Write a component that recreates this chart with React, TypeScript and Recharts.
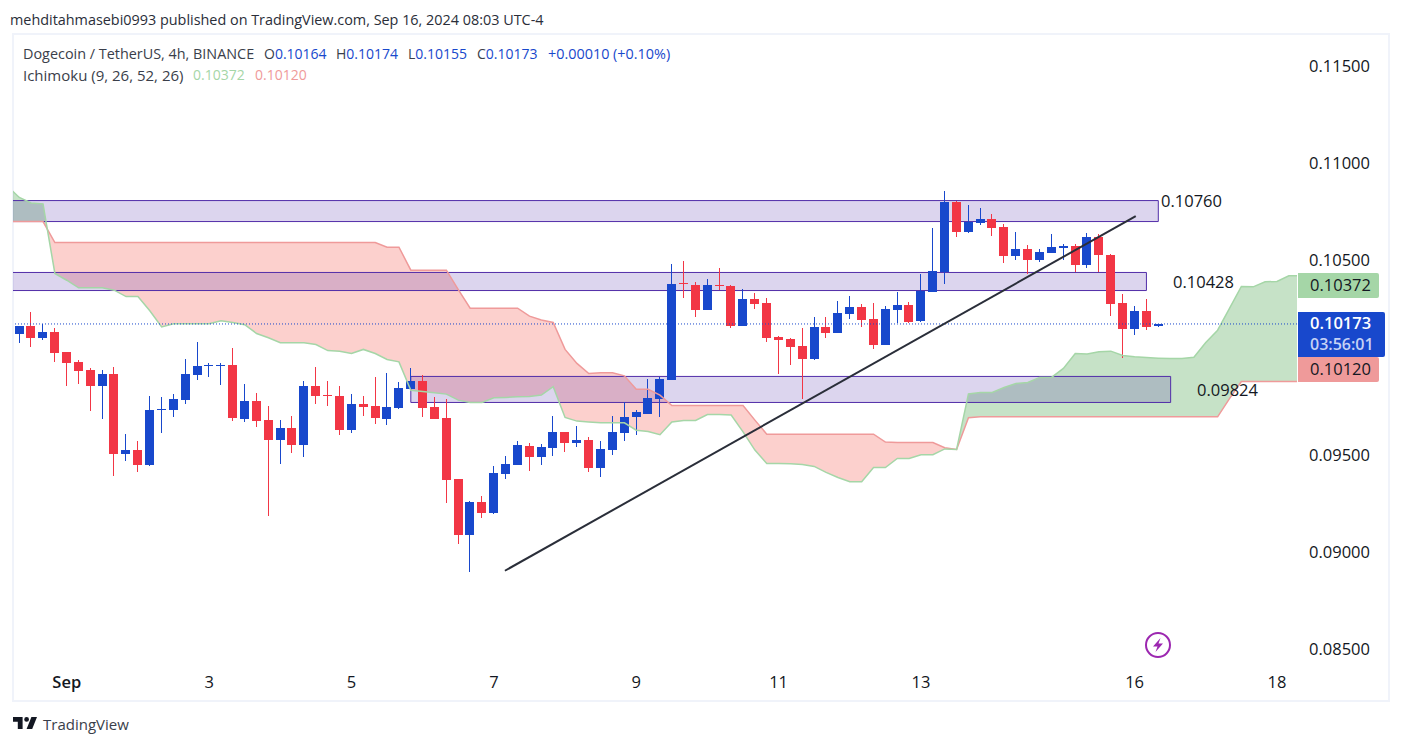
import { ComposedChart, Area, Bar, Line, XAxis, YAxis, ReferenceArea, ReferenceLine } from "recharts";

// one entry per 4h candle, oldest first
const opens = [
  0.10122, 0.10162, 0.10102, 0.10131, 0.10028, 0.09976, 0.09935, 0.09855, 0.09915, 0.09505,
  0.09524, 0.09448, 0.09729, 0.09731, 0.09783, 0.09911, 0.09958, 0.09958, 0.09961, 0.09685,
  0.09776, 0.09678, 0.09577, 0.09637, 0.09551, 0.09853, 0.09807, 0.09801, 0.09628, 0.09760,
  0.09750, 0.09685, 0.09741, 0.09838, 0.09879, 0.09745, 0.09688, 0.09374, 0.09088, 0.09256,
  0.09201, 0.09402, 0.09448, 0.09544, 0.09489, 0.09536, 0.09616, 0.09561, 0.09575, 0.09433,
  0.09525, 0.09613, 0.09693, 0.09711, 0.09786, 0.09884, 0.10383, 0.10373, 0.10244, 0.10373,
  0.10368, 0.10163, 0.10301, 0.10280, 0.10105, 0.10095, 0.10059, 0.09992, 0.10157, 0.10126,
  0.10223, 0.10259, 0.10198, 0.10064, 0.10244, 0.10270, 0.10187, 0.10337, 0.10438, 0.10800,
  0.10645, 0.10692, 0.10712, 0.10671, 0.10522, 0.10558, 0.10501, 0.10537, 0.10563, 0.10573,
  0.10476, 0.10620, 0.10527, 0.10280, 0.10146, 0.10239, 0.10164,
];
const closes = [
  0.10162, 0.10102, 0.10131, 0.10024, 0.09973, 0.09932, 0.09855, 0.09915, 0.09505, 0.09524,
  0.09448, 0.09729, 0.09735, 0.09786, 0.09915, 0.09956, 0.09963, 0.09961, 0.09690, 0.09776,
  0.09675, 0.09577, 0.09637, 0.09551, 0.09853, 0.09803, 0.09803, 0.09628, 0.09760, 0.09747,
  0.09690, 0.09745, 0.09843, 0.09879, 0.09741, 0.09685, 0.09371, 0.09088, 0.09256, 0.09201,
  0.09405, 0.09452, 0.09549, 0.09489, 0.09539, 0.09616, 0.09561, 0.09575, 0.09433, 0.09529,
  0.09616, 0.09693, 0.09719, 0.09791, 0.09889, 0.10378, 0.10380, 0.10244, 0.10373, 0.10369,
  0.10163, 0.10301, 0.10275, 0.10100, 0.10090, 0.10054, 0.09992, 0.10157, 0.10126, 0.10229,
  0.10259, 0.10193, 0.10064, 0.10249, 0.10270, 0.10182, 0.10345, 0.10445, 0.10800, 0.10645,
  0.10700, 0.10712, 0.10666, 0.10522, 0.10558, 0.10501, 0.10542, 0.10568, 0.10573, 0.10476,
  0.10620, 0.10527, 0.10275, 0.10146, 0.10239, 0.10157, 0.10173,
];
const highs = [
  0.10162, 0.10234, 0.10175, 0.10150, 0.10028, 0.09987, 0.09946, 0.09935, 0.09951, 0.09606,
  0.09570, 0.09801, 0.09796, 0.09812, 0.09992, 0.10079, 0.09971, 0.09971, 0.10048, 0.09863,
  0.09817, 0.09750, 0.09678, 0.09699, 0.09879, 0.09951, 0.09879, 0.09853, 0.09812, 0.09801,
  0.09899, 0.09920, 0.09873, 0.09946, 0.09910, 0.09796, 0.09786, 0.09374, 0.09261, 0.09287,
  0.09441, 0.09493, 0.09570, 0.09560, 0.09554, 0.09699, 0.09616, 0.09647, 0.09590, 0.09570,
  0.09699, 0.09769, 0.09729, 0.09889, 0.09899, 0.10481, 0.10496, 0.10388, 0.10404, 0.10460,
  0.10373, 0.10352, 0.10331, 0.10306, 0.10110, 0.10100, 0.10151, 0.10208, 0.10208, 0.10290,
  0.10316, 0.10275, 0.10280, 0.10265, 0.10337, 0.10285, 0.10429, 0.10666, 0.10856, 0.10805,
  0.10784, 0.10769, 0.10738, 0.10687, 0.10645, 0.10579, 0.10558, 0.10635, 0.10584, 0.10584,
  0.10640, 0.10635, 0.10532, 0.10326, 0.10265, 0.10301, 0.10174,
];
const lows = [
  0.10076, 0.10055, 0.10091, 0.09978, 0.09855, 0.09865, 0.09726, 0.09685, 0.09392, 0.09469,
  0.09412, 0.09443, 0.09613, 0.09695, 0.09762, 0.09886, 0.09901, 0.09860, 0.09675, 0.09669,
  0.09644, 0.09186, 0.09453, 0.09510, 0.09489, 0.09762, 0.09752, 0.09603, 0.09613, 0.09700,
  0.09659, 0.09654, 0.09735, 0.09838, 0.09695, 0.09685, 0.09253, 0.09042, 0.08897, 0.09175,
  0.09196, 0.09376, 0.09448, 0.09417, 0.09448, 0.09494, 0.09515, 0.09541, 0.09412, 0.09386,
  0.09500, 0.09572, 0.09603, 0.09711, 0.09695, 0.09884, 0.10306, 0.10208, 0.10244, 0.10347,
  0.10153, 0.10163, 0.10249, 0.10081, 0.09915, 0.09961, 0.09786, 0.09987, 0.10100, 0.10126,
  0.10198, 0.10157, 0.10043, 0.10064, 0.10177, 0.10177, 0.10182, 0.10337, 0.10378, 0.10620,
  0.10640, 0.10681, 0.10625, 0.10486, 0.10501, 0.10429, 0.10491, 0.10537, 0.10501, 0.10440,
  0.10460, 0.10440, 0.10213, 0.09997, 0.10115, 0.10141, 0.10155,
];

// Ichimoku leads, one entry per bar from the bar before the first candle to past the right edge
const leadA = [
  0.10882, 0.10824, 0.10796, 0.10791, 0.10433, 0.10398, 0.10359, 0.10359, 0.10359, 0.10347,
  0.10314, 0.10314, 0.10241, 0.10158, 0.10174, 0.10174, 0.10174, 0.10174, 0.10189, 0.10181,
  0.10169, 0.10124, 0.10102, 0.10076, 0.10076, 0.10076, 0.10067, 0.10036, 0.10033, 0.10021,
  0.10042, 0.10021, 0.09990, 0.09978, 0.09832, 0.09825, 0.09819, 0.09812, 0.09781, 0.09769,
  0.09769, 0.09793, 0.09795, 0.09798, 0.09800, 0.09807, 0.09850, 0.09692, 0.09673, 0.09669,
  0.09664, 0.09664, 0.09664, 0.09626, 0.09620, 0.09603, 0.09669, 0.09676, 0.09676, 0.09707,
  0.09707, 0.09704, 0.09618, 0.09524, 0.09455, 0.09455, 0.09453, 0.09450, 0.09440, 0.09409,
  0.09383, 0.09361, 0.09361, 0.09434, 0.09434, 0.09481, 0.09481, 0.09500, 0.09500, 0.09530,
  0.09527, 0.09813, 0.09820, 0.09820, 0.09846, 0.09867, 0.09872, 0.09898, 0.09898, 0.09944,
  0.10021, 0.10018, 0.10030, 0.10033, 0.10011, 0.10004, 0.10000, 0.09997, 0.09995, 0.09995,
  0.10002, 0.10078, 0.10141, 0.10253, 0.10366, 0.10364, 0.10390, 0.10392, 0.10421, 0.10422,
];
const leadB = [
  0.10700, 0.10700, 0.10700, 0.10700,
  0.10592, 0.10592, 0.10592, 0.10592, 0.10592, 0.10592, 0.10592, 0.10592, 0.10592, 0.10592,
  0.10592, 0.10592, 0.10592, 0.10592, 0.10592, 0.10592, 0.10592, 0.10592, 0.10592, 0.10592,
  0.10592, 0.10592, 0.10592, 0.10592, 0.10592, 0.10592, 0.10592, 0.10592,
  0.10568, 0.10568, 0.10450, 0.10450, 0.10450, 0.10450, 0.10350,
  0.10254, 0.10254, 0.10254, 0.10254, 0.10254,
  0.10213, 0.10193, 0.10181, 0.10042, 0.09970, 0.09918, 0.09922, 0.09922, 0.09906, 0.09837, 0.09837, 0.09807,
  0.09753, 0.09753, 0.09753, 0.09753, 0.09753, 0.09753, 0.09753, 0.09678,
  0.09606, 0.09606, 0.09606, 0.09606, 0.09606, 0.09606, 0.09606, 0.09606, 0.09606, 0.09606,
  0.09565, 0.09563, 0.09563, 0.09563, 0.09563, 0.09536, 0.09527, 0.09690,
  0.09695, 0.09695, 0.09695, 0.09695, 0.09695, 0.09695, 0.09695, 0.09695, 0.09695, 0.09695, 0.09695,
  0.09695, 0.09695, 0.09695, 0.09695, 0.09695, 0.09695, 0.09695, 0.09695, 0.09695, 0.09695,
  0.09789, 0.09877, 0.09877, 0.09877, 0.09877, 0.09877, 0.09877,
];
// where the two leads swap sides at the left edge
const crossBar = 2.36;
const crossPrice = 0.10661;

const priceTicks = [0.085, 0.09, 0.095, 0.1, 0.105, 0.11, 0.115];
const dateBars = [4, 16, 28, 40, 52, 64, 76, 94, 106];
const dateLabels = ["Sep", "3", "5", "7", "9", "11", "13", "16", "18"];

const zoneTops = [0.10808, 0.10438, 0.09903];
const zoneBottoms = [0.10700, 0.10345, 0.09769];
const zoneStarts = [-2, -2, 33];
const zoneEnds = [96, 95, 97.04];

const lastPrice = 0.10173;
const trendBars = [40.93, 94.1];
const trendPrices = [0.08903, 0.10728];

const X_MIN = -0.53;
const X_MAX = 107.69;
const UP = "#1848CC";
const DOWN = "#F23645";
const FONT = "'Open Sans', sans-serif";

const rows: any[] = leadA.map((a, k) => {
  const i = k - 1;
  const b = leadB[k];
  return {
    i,
    leadA: a,
    leadB: b,
    green: a >= b ? [b, a] : null,
    red: a <= b ? [a, b] : null,
    open: opens[i],
    close: closes[i],
    high: highs[i],
    low: lows[i],
    range: i >= 0 && i < opens.length ? [lows[i], highs[i]] : undefined,
  };
});
rows.splice(4, 0, {
  i: crossBar,
  leadA: crossPrice,
  leadB: crossPrice,
  green: [crossPrice, crossPrice],
  red: [crossPrice, crossPrice],
});

function Candle(props: any) {
  const { x, y, width, height, payload } = props;
  if (payload.high == null || !Number.isFinite(y)) return null;
  const span = payload.high - payload.low;
  const toY = (v: number) => y + ((payload.high - v) / span) * height;
  const top = toY(Math.max(payload.open, payload.close));
  const bottom = toY(Math.min(payload.open, payload.close));
  const color = payload.close >= payload.open ? UP : DOWN;
  const wick = Math.floor(x + width / 2);
  return (
    <g shapeRendering="crispEdges">
      <rect x={wick} y={y} width={1} height={height} fill={color} />
      <rect x={wick - 4} y={top} width={9} height={Math.max(bottom - top, 1)} fill={color} />
    </g>
  );
}

function DateTick(props: any) {
  const { x, y, payload } = props;
  const k = dateBars.indexOf(payload.value);
  return (
    <text x={x} y={y} dy={15} textAnchor="middle" fontFamily={FONT} fontSize={16.5} fontWeight={k === 0 ? 600 : 400} fill="#131722">
      {dateLabels[k]}
    </text>
  );
}

function Note(props: { x: number; y: number; size?: number; color?: string; weight?: number; children: any }) {
  return (
    <div
      style={{
        position: "absolute",
        left: props.x,
        top: props.y,
        lineHeight: "20px",
        fontSize: props.size ?? 14,
        color: props.color ?? "#131722",
        fontWeight: props.weight ?? 400,
        whiteSpace: "pre",
      }}
    >
      {props.children}
    </div>
  );
}

function PriceTag(props: { top: number; height: number; width: number; bg: string; children: any }) {
  return (
    <div
      style={{
        position: "absolute",
        left: 1298,
        top: props.top,
        width: props.width,
        height: props.height,
        background: props.bg,
        borderRadius: "0 2px 2px 0",
      }}
    >
      {props.children}
    </div>
  );
}

export default function App() {
  return (
    <div style={{ position: "absolute", left: 0, top: 0, width: 1402, height: 746, background: "#fff", fontFamily: FONT, overflow: "hidden" }}>
      <div style={{ position: "absolute", left: 12, top: 33, width: 1374, height: 665, border: "2px solid #F0F3FA" }} />
      <Note x={10} y={10} size={14.4} color="#2A2E39">mehditahmasebi0993 published on TradingView.com, Sep 16, 2024 08:03 UTC-4</Note>

      <div style={{ position: "absolute", left: 0, top: 0 }}>
        <ComposedChart width={1402} height={746} data={rows} margin={{ top: 35, right: 12, bottom: 45, left: 13 }}>
          <XAxis
            dataKey="i"
            type="number"
            domain={[X_MIN, X_MAX]}
            allowDataOverflow
            ticks={dateBars}
            interval={0}
            axisLine={false}
            tickLine={false}
            height={36}
            tick={<DateTick />}
          />
          <YAxis
            orientation="right"
            width={93}
            domain={[0.08418, 0.1166]}
            ticks={priceTicks}
            interval={0}
            axisLine={false}
            tickLine={false}
            tickSize={0}
            tickMargin={12}
            tickFormatter={(v: number) => v.toFixed(5)}
            tick={{ fontSize: 16.5, fill: "#131722", fontFamily: FONT }}
          />
          <Area dataKey="green" stroke="none" fill="#43A047" fillOpacity={0.3} isAnimationActive={false} dot={false} activeDot={false} />
          <Area dataKey="red" stroke="none" fill="#F44336" fillOpacity={0.25} isAnimationActive={false} dot={false} activeDot={false} />
          <Line dataKey="leadB" stroke="#EF9A9A" strokeWidth={1.5} dot={false} activeDot={false} isAnimationActive={false} />
          <Line dataKey="leadA" stroke="#A5D6A7" strokeWidth={1.5} dot={false} activeDot={false} isAnimationActive={false} />
          {zoneTops.map((top, k) => (
            <ReferenceArea
              key={k}
              x1={zoneStarts[k]}
              x2={zoneEnds[k]}
              y1={zoneBottoms[k]}
              y2={top}
              ifOverflow="hidden"
              fill="#512DA8"
              fillOpacity={0.2}
              stroke="#512DA8"
              strokeWidth={1}
            />
          ))}
          <ReferenceLine y={lastPrice} stroke={UP} strokeWidth={1} strokeDasharray="1 2" />
          <Bar dataKey="range" barSize={9} shape={<Candle />} isAnimationActive={false} />
          <ReferenceLine
            stroke="#2A2E39"
            strokeWidth={2}
            segment={[
              { x: trendBars[0], y: trendPrices[0] },
              { x: trendBars[1], y: trendPrices[1] },
            ]}
          />
        </ComposedChart>
      </div>

      <Note x={23} y={44} size={14.4} color="#3A3E4A">Dogecoin / TetherUS, 4h, BINANCE</Note>
      <Note x={264} y={44} color="#3A3E4A">O<span style={{ color: UP }}>0.10164</span></Note>
      <Note x={336} y={44} color="#3A3E4A">H<span style={{ color: UP }}>0.10174</span></Note>
      <Note x={408} y={44} color="#3A3E4A">L<span style={{ color: UP }}>0.10155</span></Note>
      <Note x={477} y={44} color="#3A3E4A">C<span style={{ color: UP }}>0.10173</span></Note>
      <Note x={548} y={44} size={14.4} color={UP}>+0.00010 (+0.10%)</Note>
      <Note x={23} y={65} size={15} color="#3A3E4A">Ichimoku (9, 26, 52, 26)</Note>
      <Note x={193} y={65} color="#A5D6A7">0.10372</Note>
      <Note x={255} y={65} color="#EF9A9A">0.10120</Note>

      <Note x={1161} y={191} size={16.5}>0.10760</Note>
      <Note x={1173} y={272} size={16.5}>0.10428</Note>
      <Note x={1197} y={380} size={16.5}>0.09824</Note>

      <PriceTag top={273} height={25} width={81} bg="#A5D6A7">
        <Note x={12} y={2} size={16.5}>0.10372</Note>
      </PriceTag>
      <PriceTag top={312} height={45} width={87} bg={UP}>
        <Note x={12} y={1} size={16.5} color="#fff" weight={600}>0.10173</Note>
        <Note x={12} y={22} size={16} color="#C5D2F5" weight={600}>03:56:01</Note>
      </PriceTag>
      <PriceTag top={357} height={25} width={81} bg="#EF9A9A">
        <Note x={12} y={2} size={16.5}>0.10120</Note>
      </PriceTag>

      <svg style={{ position: "absolute", left: 1145, top: 632 }} width={26} height={26} viewBox="0 0 26 26">
        <circle cx={13} cy={13} r={12} fill="none" stroke="#9C27B0" strokeWidth={2} />
        <path d="M15.5 6 L8 14.5 H12.5 L10.5 20 L18 11.5 H13.5 Z" fill="#9C27B0" />
      </svg>

      <svg style={{ position: "absolute", left: 13, top: 717 }} width={24} height={12} viewBox="2 6 30 15">
        <path d="M14 6H2v6h6v9h6V6Zm12 15h-7l6-15h7l-6 15Zm-7-9a3 3 0 1 0 0-6 3 3 0 0 0 0 6Z" fill="#131722" />
      </svg>
      <Note x={43} y={714} size={15} color="#3A3E4A">TradingView</Note>
    </div>
  );
}
